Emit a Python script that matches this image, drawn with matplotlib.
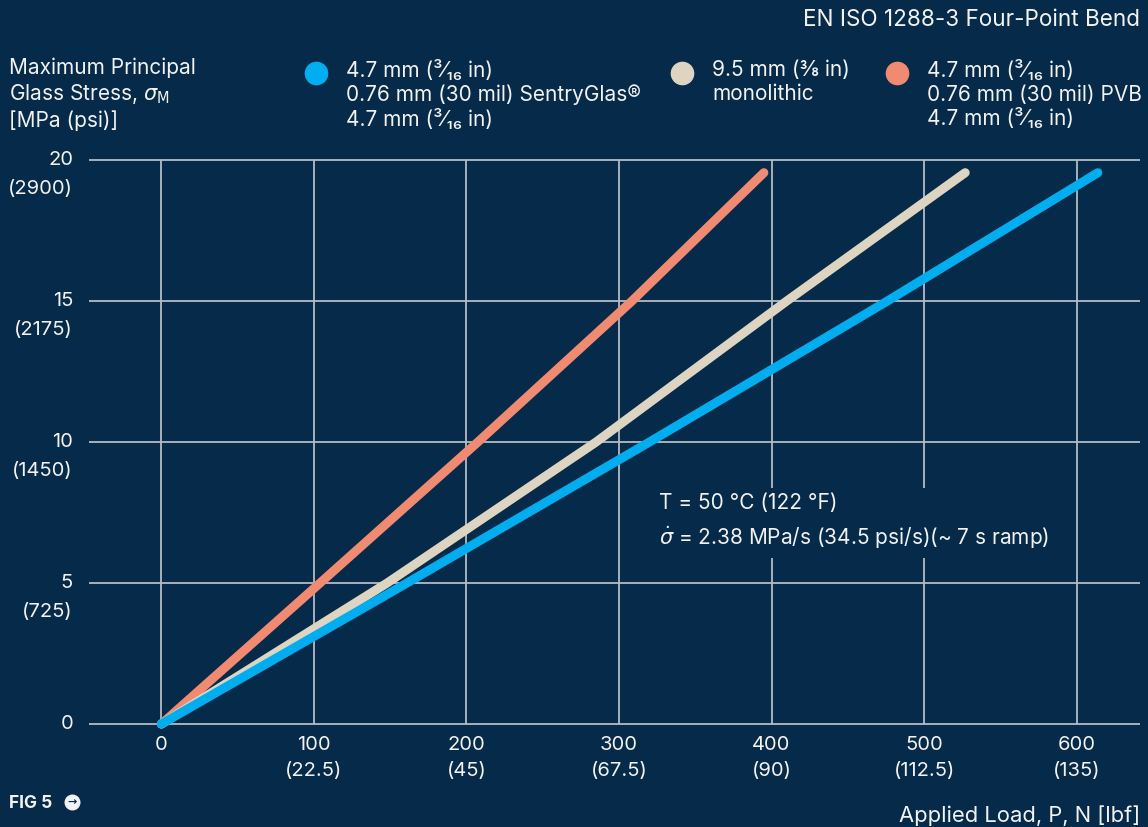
import matplotlib
matplotlib.use("Agg")
import matplotlib.pyplot as plt
from matplotlib.lines import Line2D

plt.rcParams['font.family'] = ['Inter', 'DejaVu Sans']
plt.rcParams['mathtext.fontset'] = 'dejavusans'

BG = '#062a49'
GRID = '#b4bcc4'
WHITE = '#f2f2f2'
C_SG = '#00aeef'
C_MONO = '#ddd5c1'
C_PVB = '#f08a70'

# Data
load_sg = [0, 161, 320, 476, 614]
stress_sg = [0, 5, 10, 15, 19.55]
load_mono = [0, 148, 285, 410, 527]
stress_mono = [0, 5, 10, 15, 19.55]
load_pvb = [0, 104, 207.5, 308.5, 395]
stress_pvb = [0, 5, 10, 15, 19.55]

x_ticks = [0, 100, 200, 300, 400, 500, 600]
x_tick_lbf = ['', '(22.5)', '(45)', '(67.5)', '(90)', '(112.5)', '(135)']
y_ticks = [0, 5, 10, 15, 20]
y_tick_psi = ['', '(725)', '(1450)', '(2175)', '(2900)']

legend_labels = [
    "4.7 mm (³⁄₁₆ in)\n0.76 mm (30 mil) SentryGlas®\n4.7 mm (³⁄₁₆ in)",
    "9.5 mm (⅜ in)\nmonolithic",
    "4.7 mm (³⁄₁₆ in)\n0.76 mm (30 mil) PVB\n4.7 mm (³⁄₁₆ in)",
]

W, H = 1148, 827
fig = plt.figure(figsize=(W / 100, H / 100), dpi=100, facecolor=BG)

xmin, xmax = -47.5, 641.6
ymin, ymax = -0.5, 20.5
ax = fig.add_axes([89 / W, 1 - 738.1 / H, (1140 - 89) / W, (738.1 - 145.9) / H])
ax.set_facecolor(BG)
ax.set_xlim(xmin, xmax)
ax.set_ylim(ymin, ymax)
for s in ax.spines.values():
    s.set_visible(False)
ax.set_xticks([])
ax.set_yticks([])

ax.hlines(y_ticks, xmin, xmax, color=GRID, lw=1.3, zorder=1)
ax.vlines(x_ticks, 0, 20, color=GRID, lw=1.3, zorder=1)

for xs, ys, c, z in [(load_pvb, stress_pvb, C_PVB, 3), (load_mono, stress_mono, C_MONO, 3),
                     (load_sg, stress_sg, C_SG, 4)]:
    ax.plot(xs, ys, color=c, lw=6.5, solid_capstyle='round', solid_joinstyle='round', zorder=z)

fs = 14.5
# y tick labels
for v, p in zip(y_ticks, y_tick_psi):
    ax.annotate(str(v), xy=(73 / W, v), xycoords=('figure fraction', 'data'),
                ha='right', va='center', color=WHITE, fontsize=fs)
    if p:
        ax.annotate(p, xy=(73 / W, v), xycoords=('figure fraction', 'data'),
                    xytext=(0, -21), textcoords='offset points',
                    ha='right', va='center', color=WHITE, fontsize=fs)
# x tick labels
for v, p in zip(x_ticks, x_tick_lbf):
    ax.annotate(str(v), xy=(v, 1 - 745 / H), xycoords=('data', 'figure fraction'),
                ha='center', va='center', color=WHITE, fontsize=fs)
    if p:
        ax.annotate(p, xy=(v, 1 - 771 / H), xycoords=('data', 'figure fraction'),
                    ha='center', va='center', color=WHITE, fontsize=fs)

# annotation box
ax.text(659 / W, 1 - 493 / H, "T = 50 °C (122 °F)\n$\\dot{\\sigma}$ = 2.38 MPa/s (34.5 psi/s)(~ 7 s ramp)",
        transform=fig.transFigure, ha='left', va='top', color=WHITE, fontsize=15,
        linespacing=1.55, zorder=5,
        bbox=dict(boxstyle='square,pad=0.35', fc=BG, ec='none'))

# Title and axis labels
fig.text(1140 / W, 1 - 20 / H, "EN ISO 1288-3 Four-Point Bend", ha='right', va='center',
         color=WHITE, fontsize=16.2)
fig.text(9 / W, 1 - 57 / H, "Maximum Principal\nGlass Stress, $\\sigma_\\mathrm{M}$\n[MPa (psi)]",
         ha='left', va='top', color=WHITE, fontsize=15, linespacing=1.25)
fig.text(1140 / W, 1 - 816 / H, "Applied Load, P, N [lbf]", ha='right', va='center',
         color=WHITE, fontsize=15.8)

# Legend
for cx, col, lab in [(316, C_SG, legend_labels[0]), (682, C_MONO, legend_labels[1]),
                     (897, C_PVB, legend_labels[2])]:
    fig.add_artist(Line2D([cx / W], [1 - 73 / H], marker='o', markersize=16,
                          color=col, transform=fig.transFigure))
    fig.text((cx + 30) / W, 1 - 60 / H, lab, ha='left', va='top', color=WHITE,
             fontsize=15, linespacing=1.22)

# FIG 5 footer
fig.text(9 / W, 1 - 803 / H, "FIG 5", ha='left', va='center', color=WHITE,
         fontsize=12.5, fontweight='bold')
fig.add_artist(Line2D([72 / W], [1 - 802 / H], marker='o', markersize=10.5,
                      color=WHITE, transform=fig.transFigure))
fig.text(72 / W, 1 - 802.5 / H, "→", ha='center', va='center', color=BG,
         fontsize=8, fontweight='bold', family=['DejaVu Sans'])

fig.savefig("out.png", dpi=100, facecolor=BG)
